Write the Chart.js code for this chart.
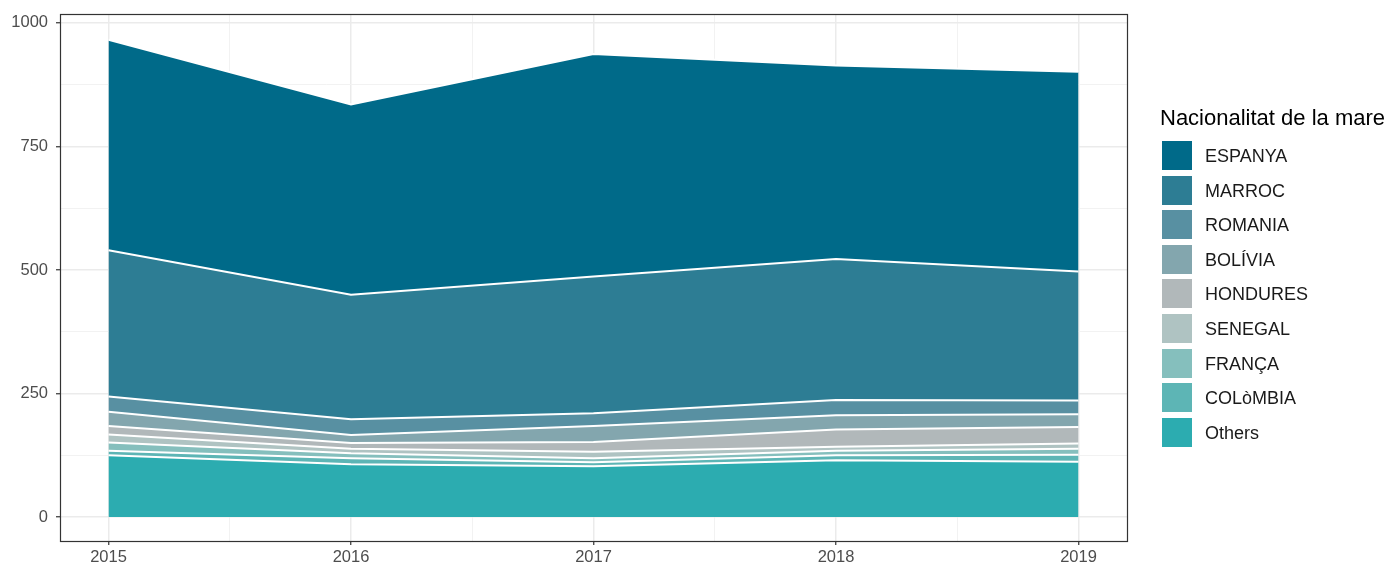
<!DOCTYPE html>
<html>
<head>
<meta charset="utf-8">
<script src="https://cdn.jsdelivr.net/npm/chart.js@4.4.0/dist/chart.umd.min.js"></script>
<style>
  body { margin: 0; background: #fff; font-family: "Liberation Sans", Arial, sans-serif; }
  #wrap { position: relative; width: 1387px; height: 564px; }
  #legend { position: absolute; left: 1160px; top: 0; }
  #legend .title { position: absolute; left: 0; top: 105px; font-size: 22px; color: #000; white-space: nowrap; }
  #legend .item { position: absolute; left: 2px; height: 29px; }
  #legend .box { position: absolute; left: 0; top: 0; width: 30px; height: 29px; }
  #legend .lbl { position: absolute; left: 43px; top: 5px; font-size: 18px; color: #1a1a1a; white-space: nowrap; }
</style>
</head>
<body>
<div id="wrap">
  <canvas id="chart" width="1387" height="564"></canvas>
  <div id="legend"></div>
</div>
<script>
// Births by mother's nationality, stacked area
const years = [2015, 2016, 2017, 2018, 2019];
const categories = ["ESPANYA", "MARROC", "ROMANIA", "BOLÍVIA", "HONDURES", "SENEGAL", "FRANÇA", "COLòMBIA", "Others"];
const espanya  = [426, 385, 450, 392, 404];
const marroc   = [296, 252, 277, 285, 261];
const romania  = [31, 32, 26, 31, 28];
const bolivia  = [29, 16, 32, 29, 26];
const hondures = [17, 12, 20, 35, 33];
const senegal  = [16, 9, 13, 8, 11];
const franca   = [17, 10, 8, 9, 12];
const colombia = [9, 12, 8, 10, 14];
const others   = [125, 107, 103, 115, 112];
const yTicks = [0, 250, 500, 750, 1000];

const series = [espanya, marroc, romania, bolivia, hondures, senegal, franca, colombia, others];
const colors = ["#006A89", "#2D7D94", "#5890A2", "#83A6AE", "#B1B8BA", "#AFC3C2", "#85BFBD", "#5DB5B5", "#2CACB0"];

// legend (top to bottom = ESPANYA .. Others)
const legend = document.getElementById("legend");
legend.innerHTML = '<div class="title">Nacionalitat de la mare</div>';
categories.forEach(function(name, i) {
    const item = document.createElement("div");
    item.className = "item";
    item.style.top = (141 + i * 34.6) + "px";
    item.innerHTML = '<div class="box" style="background:' + colors[i] + '"></div><div class="lbl">' + name + '</div>';
    legend.appendChild(item);
});

// datasets bottom-up: Others first
const datasets = [];
for (let i = categories.length - 1; i >= 0; i--) {
    datasets.push({
        label: categories[i],
        data: years.map((y, j) => ({ x: y, y: series[i][j] })),
        backgroundColor: colors[i],
        borderColor: "#ffffff",
        borderWidth: 2,
        pointRadius: 0,
        tension: 0,
        fill: datasets.length === 0 ? "origin" : "-1"
    });
}

const frame = {
    id: "frame",
    afterDraw(chart) {
        const a = chart.chartArea;
        const c = chart.ctx;
        c.save();
        c.strokeStyle = "#333333";
        c.lineWidth = 1.2;
        c.strokeRect(a.left + 0.5, a.top + 0.5, a.right - a.left, a.bottom - a.top);
        c.restore();
    }
};

const tickFont = { family: "'Liberation Sans', Arial, sans-serif", size: 16.5 };

new Chart(document.getElementById("chart").getContext("2d"), {
    type: "line",
    data: { datasets: datasets },
    plugins: [frame],
    options: {
        responsive: false,
        animation: false,
        layout: { padding: { top: 14, right: 260, left: 0, bottom: 0 } },
        plugins: {
            legend: { display: false },
            tooltip: { enabled: false },
            filler: { drawTime: "beforeDatasetsDraw" }
        },
        scales: {
            x: {
                type: "linear",
                min: 2014.8,
                max: 2019.2,
                afterBuildTicks(scale) {
                    const t = [];
                    for (let v = 2015; v <= 2019; v += 0.5) t.push({ value: v });
                    scale.ticks = t;
                },
                afterFit(scale) {
                    scale.height = 23;
                    scale.paddingLeft = 0;
                    scale.paddingRight = 0;
                },
                border: { display: false },
                grid: {
                    color: ctx => Number.isInteger(ctx.tick.value) ? "#EBEBEB" : "#F2F2F2",
                    lineWidth: ctx => Number.isInteger(ctx.tick.value) ? 1.5 : 1,
                    tickColor: ctx => Number.isInteger(ctx.tick.value) ? "#333333" : "rgba(0,0,0,0)",
                    tickLength: 4,
                    tickWidth: 1.2
                },
                ticks: {
                    autoSkip: false,
                    maxRotation: 0,
                    padding: 3,
                    color: "#4D4D4D",
                    font: tickFont,
                    callback: v => Number.isInteger(v) ? String(v) : ""
                }
            },
            y: {
                type: "linear",
                stacked: true,
                min: -48.5,
                max: 1018,
                afterBuildTicks(scale) {
                    const t = [];
                    yTicks.forEach(v => { t.push({ value: v }); if (v + 125 < 1018) t.push({ value: v + 125 }); });
                    scale.ticks = t.sort((a, b) => a.value - b.value);
                },
                afterFit(scale) {
                    scale.width = 60;
                    scale.paddingTop = 0;
                    scale.paddingBottom = 0;
                },
                border: { display: false },
                grid: {
                    color: ctx => yTicks.includes(ctx.tick.value) ? "#EBEBEB" : "#F2F2F2",
                    lineWidth: ctx => yTicks.includes(ctx.tick.value) ? 1.5 : 1,
                    tickColor: ctx => yTicks.includes(ctx.tick.value) ? "#333333" : "rgba(0,0,0,0)",
                    tickLength: 4,
                    tickWidth: 1.2
                },
                ticks: {
                    autoSkip: false,
                    padding: 8,
                    color: "#4D4D4D",
                    font: tickFont,
                    callback: v => yTicks.includes(v) ? String(v) : ""
                }
            }
        }
    }
});
</script>
</body>
</html>
